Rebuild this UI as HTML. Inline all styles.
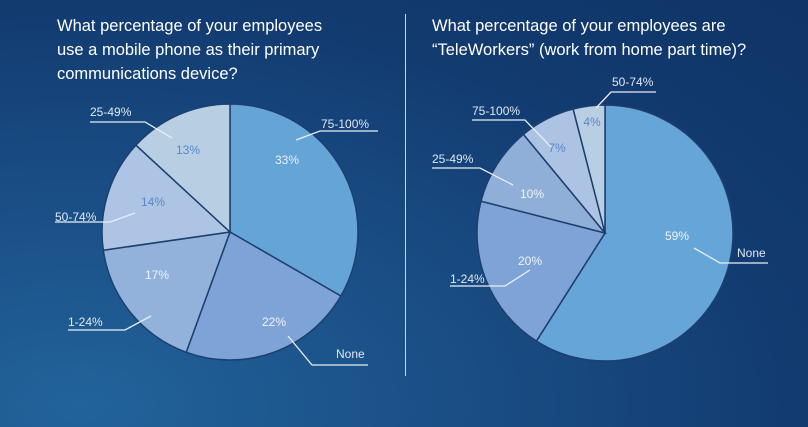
<!DOCTYPE html>
<html><head><meta charset="utf-8"><style>
html,body{margin:0;padding:0;width:808px;height:427px;overflow:hidden}
body{background:radial-gradient(ellipse at 10% 95%,#22639b 0%,#1a4f86 35%,#123b70 70%,#0f3466 100%);font-family:"Liberation Sans",sans-serif}
.t{position:absolute;color:#fff;font-size:16.5px;line-height:24px}
</style></head><body>
<div class="t" style="left:57px;top:14px">What percentage of your employees<br>use a mobile phone as their primary<br>communications device?</div>
<div class="t" style="left:432px;top:14px">What percentage of your employees are<br>“TeleWorkers” (work from home part time)?</div>
<div style="position:absolute;left:405px;top:14px;width:1px;height:362px;background:#c9d6e6"></div>
<svg id="s" width="808" height="427" style="position:absolute;left:0;top:0"></svg>
<script>
const leftCats=["75-100%","None","1-24%","50-74%","25-49%"];
const leftVals=[33,22,17,14,13];
const rightCats=["None","1-24%","25-49%","75-100%","50-74%"];
const rightVals=[59,20,10,7,4];
const leftColors=["#64a4d7","#7ea3d6","#92b2dc","#aec4e4","#b8cfe3"];
const rightColors=["#66a5d8","#7ea3d6","#8faed8","#adc3e3","#b8cfe3"];
const leftPctColors=["#e8f0f8","#eef4fb","#eef4fb","#5b86c8","#5b86c8"];
const rightPctColors=["#eef4fb","#eef4fb","#eef4fb","#5b86c8","#5b86c8"];
// label layout: [labelX, labelY, underlineX1, underlineX2, underlineY, leaderX, leaderY, pctX, pctY]
const leftLayout=[[321,129,320,378,131,296,140,287,164],[336,359,312,368,365,288,336,274,326],[68,327,68,125,330,151,316,157,279],[55,222,55,110,222,135,213,153,206],[90,117,90,145,122,172,138,188,154]];
const rightLayout=[[737,258,720,768,263,694,248,677,240],[450,284,450,505,286,530,270,530,265],[432,164,432,480,168,513,185,532,198],[472,116,472,525,120,551,147,557,152],[612,87,611,656,92,596,108,592,126]];
const svg=document.getElementById('s');const NS='http://www.w3.org/2000/svg';
function mk(t,a){const e=document.createElementNS(NS,t);for(const k in a)e.setAttribute(k,a[k]);svg.appendChild(e);return e;}
function pie(cx,cy,r,cats,vals,cols,pcols,lay,side){
 const tot=vals.reduce((a,b)=>a+b,0);let a0=0;
 vals.forEach((v,i)=>{
  const a1=a0+v/tot*2*Math.PI;
  const p=a=>[cx+r*Math.sin(a),cy-r*Math.cos(a)];
  const [x0,y0]=p(a0),[x1,y1]=p(a1);
  const sl=mk('path',{d:`M${cx},${cy}L${x0},${y0}A${r},${r} 0 ${a1-a0>Math.PI?1:0} 1 ${x1},${y1}Z`,fill:cols[i],stroke:'#1c3f6e','stroke-width':1.5});
  
  
  a0=a1;
 });
 vals.forEach((v,i)=>{
  const L=lay[i];
  const ln=mk('polyline',{points:`${L[5]},${L[6]} ${L[0]<cx?L[3]:L[2]},${L[4]} ${L[0]<cx?L[2]:L[3]},${L[4]}`,fill:'none',stroke:'#e8eef6','stroke-width':1.3});
  
  
  const tx=mk('text',{x:L[7],y:L[8],'text-anchor':'middle','font-size':12,fill:pcols[i],'font-family':'Liberation Sans, sans-serif'});
  tx.textContent=vals[i]+'%';
  
  
  const ct=mk('text',{x:L[0],y:L[1]-1,'font-size':12,fill:'#dfe8f3','font-family':'Liberation Sans, sans-serif'});
  ct.textContent=cats[i];
  
  
 });
}
pie(230,232,128,leftCats,leftVals,leftColors,leftPctColors,leftLayout,'left');
pie(605,233,128,rightCats,rightVals,rightColors,rightPctColors,rightLayout,'right');
</script>
</body></html>
